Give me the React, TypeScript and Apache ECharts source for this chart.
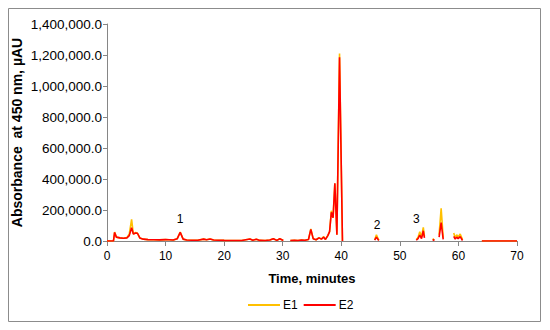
import React, { useEffect, useRef } from "react";
import * as echarts from "echarts";

// Retention time (minutes), shared by both traces; null = no trace drawn
const times = [
  0, 1.1, 1.3, 1.6, 2.2, 2.8, 3.4, 3.8, 4.2, 4.5, 4.9, 5.2, 5.6, 6.2, 7, 8, 9, 10, 10.6, 11.3, 12.0, 12.5, 13.0, 13.6,
  14.5, 15.5, 16.5, 17.0, 17.6, 18.2, 19, 20, 21.5, 23, 24.4, 24.9, 25.5, 26.1, 27, 27.8, 28.4, 29.0, 29.5, 30.1,
  30.5, 31.3, 32, 32.6, 33.2, 33.8, 34.4, 34.8, 35.2, 35.7, 36.2, 36.6, 37.0, 37.3, 37.7, 38.0, 38.3, 38.6, 38.9,
  39.25, 39.7, 40.2, 40.5, 41.6, 42.1, 42.6, 43, 44.6, 44.9, 45.2, 45.5, 45.7, 46.0, 46.4, 46.8, 47.2,
  52.5, 52.8, 53.1, 53.4, 53.7, 54.0, 54.2, 54.5, 54.8, 55.3, 55.6, 55.9, 56.3, 56.7, 57.05, 57.4, 57.8, 58.0, 58.3,
  58.7, 59.2, 59.45, 59.7, 59.95, 60.3, 60.7, 61.0, 63.8, 64, 70,
];

const e1Values = [
  0, 0, 58000, 25000, 20000, 18000, 22000, 45000, 140000, 45000, 55000, 50000, 20000, 12000, 9000, 8000, 7000, 9000, 8000, 6000, 15000, 58000, 12000, 6000,
  5000, 5000, 12000, 8000, 13000, 6000, 5000, 4000, 3000, 3000, 13000, 5000, 12000, 4000, 3000, 6000, 15000, 4000, 14000, 3000,
  null, 3000, 5000, 3000, 6000, 5000, 10000, 78000, 15000, 8000, 22000, 12000, 28000, 10000, 35000, 60000, 195000, 150000, 370000,
  40000, 1210000, 0, null, null, 15000, null, null, null, 5000, null, null, 8000, 40000, 5000, null, null,
  null, 10000, 22000, 60000, 25000, 88000, 30000, null, null, null, 15000, 5000, null, 40000, 211000, 20000, null, 12000, null,
  null, 52000, 20000, 40000, 25000, 45000, 10000, null, null, 0, 0,
];

const e2Values = [
  0, 0, 55000, 25000, 20000, 18000, 20000, 35000, 85000, 45000, 52000, 50000, 20000, 12000, 9000, 8000, 7000, 9000, 8000, 6000, 15000, 56000, 12000, 6000,
  5000, 5000, 12000, 8000, 13000, 6000, 5000, 4000, 3000, 3000, 13000, 5000, 12000, 4000, 3000, 6000, 15000, 4000, 14000, 3000,
  null, 3000, 5000, 3000, 6000, 5000, 10000, 75000, 15000, 8000, 20000, 12000, 25000, 10000, 35000, 60000, 185000, 150000, 372000,
  40000, 1185000, 0, null, null, 3000, null, null, null, 12000, null, null, 5000, 25000, 3000, null, null,
  null, 5000, 15000, 38000, 15000, 66000, 20000, null, null, null, 10000, 3000, null, 25000, 118000, 10000, null, 5000, null,
  null, 30000, 12000, 25000, 15000, 28000, 3000, null, null, 0, 0,
];

// Peak annotations: [label, time, absorbance]
const annotLabels = ["1", "2", "3"];
const annotTimes = [12.5, 46.1, 52.8];
const annotValues = [142000, 103000, 142000];

const xTicks = { min: 0, max: 70, interval: 10 };
const yTicks = { min: 0, max: 1400000, interval: 200000 };

const FONT = "'Liberation Sans', Arial, sans-serif";

export default function App() {
  const ref = useRef<HTMLDivElement>(null);
  useEffect(() => {
    document.body.style.margin = "0";
    if (!ref.current) return;
    const chart = echarts.init(ref.current, undefined, { renderer: "svg" });
    const e1 = times.map((t, i) => [t, e1Values[i]]);
    const e2 = times.map((t, i) => [t, e2Values[i]]);
    chart.setOption({
      animation: false,
      backgroundColor: "#ffffff",
      textStyle: { fontFamily: FONT },
      graphic: [
        {
          type: "rect",
          shape: { x: 8.5, y: 8.5, width: 532, height: 313 },
          style: { fill: "none", stroke: "#8c8c8c", lineWidth: 1 },
          silent: true,
        },
      ],
      grid: { left: 107, right: 33, top: 24, bottom: 89, containLabel: false, outerBoundsMode: "none" },
      legend: {
        bottom: 14,
        left: 243,
        data: ["E1", "E2"],
        icon: "rect",
        itemWidth: 32,
        itemHeight: 2,
        itemGap: 6,
        textStyle: { fontSize: 12, color: "#000", fontFamily: FONT, padding: [0, 0, 0, -2] },
      },
      xAxis: {
        type: "value",
        min: xTicks.min,
        max: xTicks.max,
        interval: xTicks.interval,
        name: "Time, minutes",
        nameLocation: "middle",
        nameGap: 31,
        nameMoveOverlap: false,
        nameTextStyle: { fontWeight: "bold", fontSize: 13, color: "#000", fontFamily: FONT },
        axisLine: { show: true, onZero: false, lineStyle: { color: "#868686", width: 1 } },
        axisTick: { show: true, inside: false, length: 5, lineStyle: { color: "#868686" } },
        axisLabel: { fontSize: 12, color: "#000", margin: 9, fontFamily: FONT },
        splitLine: { show: false },
      },
      yAxis: {
        type: "value",
        min: yTicks.min,
        max: yTicks.max,
        interval: yTicks.interval,
        name: "Absorbance  at 450 nm, µAU",
        nameLocation: "middle",
        nameGap: 83,
        nameMoveOverlap: false,
        nameRotate: 90,
        nameTextStyle: { fontWeight: "bold", fontSize: 14, color: "#000", fontFamily: FONT },
        axisLine: { show: true, lineStyle: { color: "#868686", width: 1 } },
        axisTick: { show: true, inside: false, length: 4, lineStyle: { color: "#868686" } },
        axisLabel: {
          fontSize: 13.5,
          color: "#000",
          margin: 5,
          fontFamily: FONT,
          formatter: (v: number) =>
            v.toLocaleString("en-US", { minimumFractionDigits: 1, maximumFractionDigits: 1 }),
        },
        splitLine: { show: false },
      },
      series: [
        {
          name: "E1",
          type: "line",
          data: e1,
          showSymbol: false,
          connectNulls: false,
          color: "#FFC000",
          lineStyle: { color: "#FFC000", width: 1.6 },
          z: 2,
        },
        {
          name: "E2",
          type: "line",
          data: e2,
          showSymbol: false,
          connectNulls: false,
          color: "#FF0000",
          lineStyle: { color: "#FF0000", width: 1.6 },
          z: 3,
          markPoint: {
            symbol: "circle",
            symbolSize: 0,
            label: {
              show: true,
              position: "inside",
              formatter: (p: any) => p.name,
              fontSize: 12,
              color: "#000",
              fontFamily: FONT,
            },
            data: annotLabels.map((l, i) => ({ name: l, coord: [annotTimes[i], annotValues[i]] })),
          },
        },
      ],
    });
    return () => chart.dispose();
  }, []);
  return <div ref={ref} style={{ width: 550, height: 330 }} />;
}
